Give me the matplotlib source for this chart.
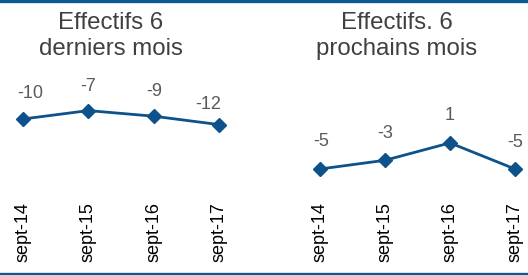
import matplotlib
matplotlib.use("Agg")
import matplotlib.pyplot as plt
from matplotlib.lines import Line2D

plt.rcParams['font.family'] = ['Liberation Sans', 'DejaVu Sans']

# data
periods = ["sept-14", "sept-15", "sept-16", "sept-17"]
past_6m = [-10, -7, -9, -12]
next_6m = [-5, -3, 1, -5]
titles = ["Effectifs 6\nderniers mois", "Effectifs. 6\nprochains mois"]

# styling
line_col = "#0d528a"
border_col = "#0b5a92"
label_col = "#5a5a5a"
title_col = "#404040"

W, H = 528, 275
fig = plt.figure(figsize=(W / 100, H / 100), dpi=100)


def px_axes(x0, x1, y_top, y_bot):
    # axes placed in pixel coordinates (y measured from the top)
    return fig.add_axes([x0 / W, 1 - y_bot / H, (x1 - x0) / W, (y_bot - y_top) / H])


# label offsets in pixels (dx, dy up)
past_offsets = [(7, 25), (0, 24), (1, 25), (-11, 20)]
next_offsets = [(1, 27), (0, 27), (0, 27), (0, 26)]

panels = [
    (past_6m, (23, 219), (11.07, -35.36), past_offsets, 111),
    (next_6m, (320, 515), (20.06, -9.83), next_offsets, 397),
]

for (vals, (x0, x1), (ytop, ybot), offs, tx), title in zip(panels, titles):
    ax = px_axes(x0, x1, 60, 190)
    xs = range(len(vals))
    ax.plot(xs, vals, color=line_col, lw=2, marker="D", ms=7.2,
            clip_on=False, zorder=3)
    ax.set_xlim(0, len(vals) - 1)
    ax.set_ylim(ybot, ytop)
    ax.set_xticks(list(xs))
    ax.set_xticklabels(periods, rotation=90, fontsize=13, color="black")
    ax.tick_params(axis="x", length=0, pad=8.6)
    ax.set_yticks([])
    for s in ax.spines.values():
        s.set_visible(False)
    ax.patch.set_alpha(0)
    for i, v in enumerate(vals):
        dx, dy = offs[i]
        ax.annotate(f"{v}", (i, v), xytext=(dx * 0.72, dy * 0.72),
                    textcoords="offset points", ha="center", va="center",
                    fontsize=13, color=label_col, annotation_clip=False)
    fig.text(tx / W, 1 - 36 / H, title, ha="center", va="center",
             fontsize=17.3, color=title_col, linespacing=1.25)

# top and bottom rules
fig.add_artist(Line2D([0, 1], [1 - 1 / H, 1 - 1 / H], color=border_col,
                      lw=2.4, transform=fig.transFigure))
fig.add_artist(Line2D([0, 1], [1.5 / H, 1.5 / H], color=border_col,
                      lw=2.4, transform=fig.transFigure))

fig.savefig("out.png", dpi=100)
